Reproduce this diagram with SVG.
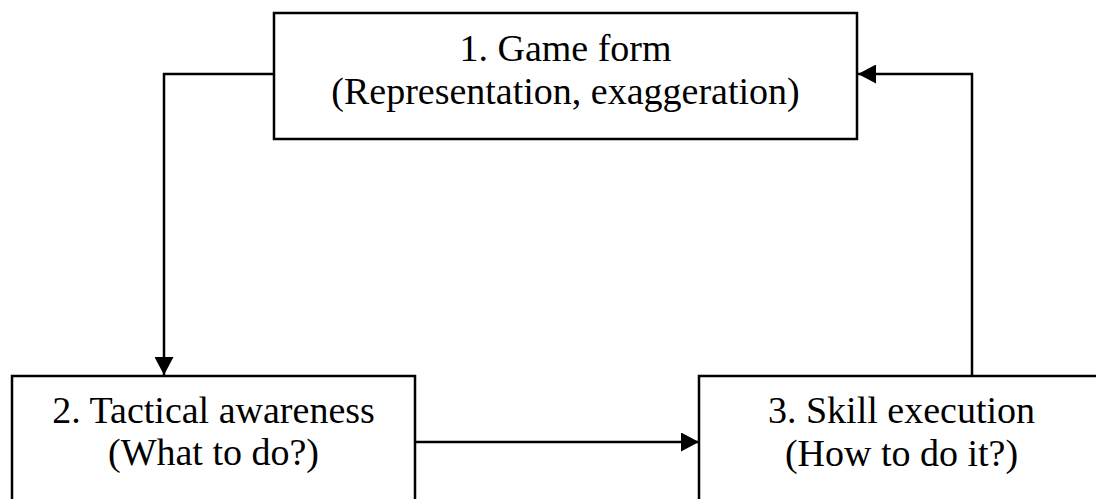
<svg xmlns="http://www.w3.org/2000/svg" width="1096" height="499" viewBox="0 0 1096 499">
<style>
.box{fill:#fff;stroke:#000;stroke-width:2.5}
.lbl{font-family:"Liberation Serif","Times New Roman",serif;font-size:38px;fill:#000;text-anchor:middle}
.con{fill:none;stroke:#000;stroke-width:2.5}
</style>
<defs>
<marker id="ah" markerWidth="18" markerHeight="19" refX="18" refY="9.5" orient="auto" markerUnits="userSpaceOnUse">
<path d="M0,0 L18,9.5 L0,19 Z" fill="#000"/>
</marker>
</defs>
<rect width="1096" height="499" fill="#fff"/>
<g id="connectors">
<path class="con" d="M274,74 H164 V375" marker-end="url(#ah)"/>
<path class="con" d="M415,442 H699" marker-end="url(#ah)"/>
<path class="con" d="M972,376 V74 H858" marker-end="url(#ah)"/>
</g>
<g id="node1">
<rect class="box" x="274" y="13" width="583" height="126"/>
<text class="lbl" x="565.5" y="61">1. Game form</text>
<text class="lbl" x="565.5" y="104">(Representation, exaggeration)</text>
</g>
<g id="node2">
<rect class="box" x="12" y="376" width="403" height="150"/>
<text class="lbl" x="213.5" y="423">2. Tactical awareness</text>
<text class="lbl" x="213.5" y="465">(What to do?)</text>
</g>
<g id="node3">
<rect class="box" x="699" y="376" width="420" height="150"/>
<text class="lbl" x="901.5" y="423">3. Skill execution</text>
<text class="lbl" x="901.5" y="466">(How to do it?)</text>
</g>
</svg>
